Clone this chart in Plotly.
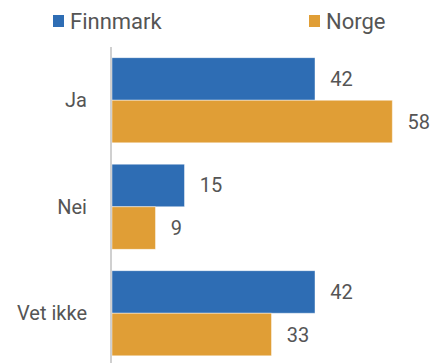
import plotly.graph_objects as go

categories = ["Ja", "Nei", "Vet ikke"]
finnmark = [42, 15, 42]
norge = [58, 9, 33]
series_names = ["Finnmark", "Norge"]

BLUE = "#2E6DB4"
ORANGE = "#E09E36"
TEXT = "#555555"
FONT = "Roboto"

W, H = 441, 363
ML, MR, MT, MB = 112, 39, 47, 0
PW, PH = W - ML - MR, H - MT - MB


def px_x(px):
    return (px - ML) / PW


def px_y(py):
    return 1 - (py - MT) / PH


fig = go.Figure()
colors = [BLUE, ORANGE]
for name, vals, col in zip(series_names, [finnmark, norge], colors):
    fig.add_trace(go.Bar(
        y=categories, x=vals, name=name, orientation="h",
        marker=dict(color=col, line=dict(width=1, color="rgba(255,255,255,0.45)")),
        text=vals, texttemplate="\u2002\u200a%{x}", textposition="outside",
        textfont=dict(family=FONT, size=20, color=TEXT),
        cliponaxis=False, showlegend=False,
    ))

# manual legend (symbol + label)
legend_pos = [(53, 70), (309, 326)]
for name, col, (sx, tx) in zip(series_names, colors, legend_pos):
    fig.add_shape(type="rect", xref="paper", yref="paper",
                  x0=px_x(sx), x1=px_x(sx + 11), y0=px_y(27), y1=px_y(15),
                  fillcolor=col, line=dict(width=0))
    fig.add_annotation(text=name, xref="paper", yref="paper",
                       x=px_x(tx - 2), y=px_y(21), xanchor="left", yanchor="middle",
                       showarrow=False,
                       font=dict(family=FONT, size=22, color=TEXT))

fig.update_layout(
    width=W, height=H,
    margin=dict(l=ML, r=MR, t=MT, b=MB, autoexpand=False),
    paper_bgcolor="white", plot_bgcolor="white",
    barmode="group", bargap=0.2, bargroupgap=0,
    font=dict(family=FONT, size=20, color=TEXT),
    showlegend=False,
    xaxis=dict(range=[0, 60], visible=False, showgrid=False, zeroline=False),
    yaxis=dict(categoryorder="array", categoryarray=categories,
               range=[2.467, -0.5], showgrid=False, zeroline=False,
               showline=True, linecolor="#d0d0d0", linewidth=2,
               ticks="", ticklabelstandoff=19, automargin=False,
               tickfont=dict(family=FONT, size=20, color=TEXT)),
)

fig.write_html("out.html", config={"displayModeBar": False},
               post_script="document.body.style.margin='0';document.body.style.overflow='hidden';")
